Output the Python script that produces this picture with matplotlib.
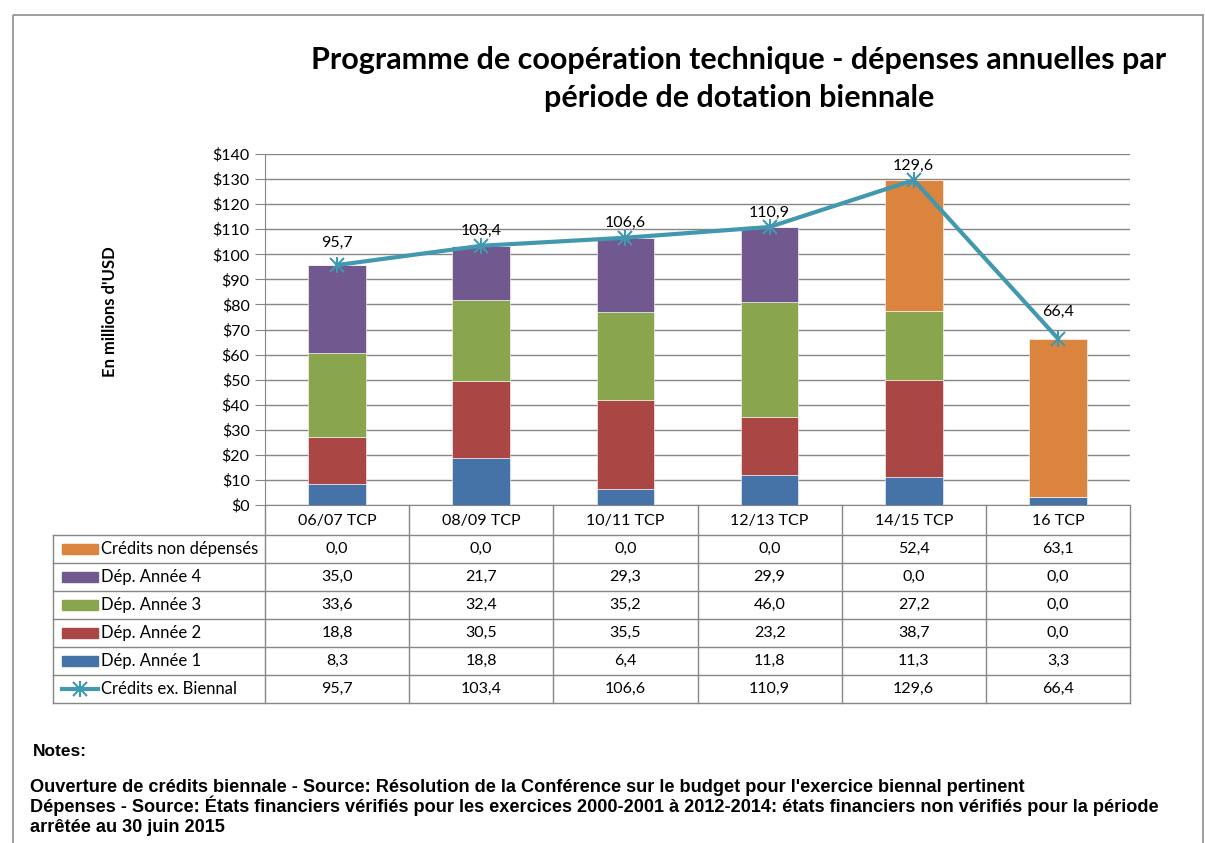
import matplotlib.pyplot as plt
from matplotlib.patches import Rectangle
import numpy as np

# ==============================
# DATA
# ==============================

periods = ["06/07 TCP", "08/09 TCP", "10/11 TCP", "12/13 TCP", "14/15 TCP", "16 TCP"]
dep_annee1 = [8.3, 18.8, 6.4, 11.8, 11.3, 3.3]
dep_annee2 = [18.8, 30.5, 35.5, 23.2, 38.7, 0.0]
dep_annee3 = [33.6, 32.4, 35.2, 46.0, 27.2, 0.0]
dep_annee4 = [35.0, 21.7, 29.3, 29.9, 0.0, 0.0]
non_depenses = [0.0, 0.0, 0.0, 0.0, 52.4, 63.1]
credits_biennal = [95.7, 103.4, 106.6, 110.9, 129.6, 66.4]

stack_names = ["Dép. Année 1", "Dép. Année 2", "Dép. Année 3", "Dép. Année 4", "Crédits non dépensés"]
stack_values = [dep_annee1, dep_annee2, dep_annee3, dep_annee4, non_depenses]
stack_colors = ["#4572A7", "#AA4643", "#89A54E", "#71588F", "#DB843D"]
line_name = "Crédits ex. Biennal"
line_color = "#4198AF"

title = "Programme de coopération technique - dépenses annuelles par\npériode de dotation biennale"
notes = [
    "Ouverture de crédits biennale - Source: Résolution de la Conférence sur le budget pour l'exercice biennal pertinent",
    "Dépenses - Source: États financiers vérifiés pour les exercices 2000-2001 à 2012-2014: états financiers non vérifiés pour la période",
    "arrêtée au 30 juin 2015",
]

# label lift above each point, in pixels (labels were hand-placed in the original)
label_lift = [22, 15, 15, 14, 14, 27]

def fr(v):
    return f"{v:.1f}".replace(".", ",")

# ==============================
# FIGURE
# ==============================

W, H = 1205, 843
fig = plt.figure(figsize=(W / 100, H / 100), dpi=100)
FONT = "Lato"
GRID = "#868686"

# overlay in pixel coordinates for frame, table and notes
ov = fig.add_axes([0, 0, 1, 1])
ov.set_xlim(0, W)
ov.set_ylim(H, 0)
ov.axis("off")

ov.add_patch(Rectangle((13, 15), 1190, 840, fill=False, edgecolor="#8c8c8c", lw=1.2))

# plot area
x0, x1, ytop, ybot = 265, 1130, 154, 505
ax = fig.add_axes([x0 / W, (H - ybot) / H, (x1 - x0) / W, (ybot - ytop) / H])
x = np.arange(len(periods))
bottom = np.zeros(len(periods))
for vals, col in zip(stack_values, stack_colors):
    ax.bar(x, vals, 0.4, bottom=bottom, color=col, edgecolor="white", lw=0.4, zorder=3)
    bottom += np.array(vals)

ax.plot(x, credits_biennal, color=line_color, lw=3, marker="x", ms=10, mew=1.5, zorder=4)
ax.plot(x, credits_biennal, ls="none", color=line_color, marker="|", ms=12, mew=1.5, zorder=4)
for i, v in enumerate(credits_biennal):
    ax.annotate(fr(v), (i, v), xytext=(0, label_lift[i] * 0.72), textcoords="offset points",
                ha="center", va="center", fontsize=11.5, family=FONT)

ax.set_xlim(-0.5, len(periods) - 0.5)
ax.set_ylim(0, 140)
ax.set_yticks(np.arange(0, 141, 10))
ax.set_yticklabels([f"${v}" for v in range(0, 141, 10)], fontsize=11.5, family=FONT)
ax.set_xticks([])
ax.grid(axis="y", color=GRID, lw=1, zorder=0)
for s in ["top", "right"]:
    ax.spines[s].set_visible(False)
ax.spines["left"].set_color(GRID)
ax.spines["bottom"].set_color(GRID)
ax.tick_params(axis="y", length=7, color=GRID, pad=4)
ax.patch.set_alpha(0)

ax.set_ylabel("En millions d'USD", fontsize=12, fontweight="bold", family=FONT, labelpad=0)
ax.yaxis.set_label_coords(-147 / (x1 - x0), 0.55)

fig.text(739 / W, 1 - 79 / H, title, ha="center", va="center", fontsize=22,
         fontweight="bold", family=FONT, linespacing=1.45)

# ==============================
# DATA TABLE
# ==============================

col_w = (x1 - x0) / len(periods)
col_edges = [x0 + i * col_w for i in range(len(periods) + 1)]
row_h = 28
rows_top = 535
table_rows = [
    ("Crédits non dépensés", non_depenses, stack_colors[4]),
    ("Dép. Année 4", dep_annee4, stack_colors[3]),
    ("Dép. Année 3", dep_annee3, stack_colors[2]),
    ("Dép. Année 2", dep_annee2, stack_colors[1]),
    ("Dép. Année 1", dep_annee1, stack_colors[0]),
    (line_name, credits_biennal, None),
]
table_bottom = rows_top + row_h * len(table_rows)

for cx in col_edges:
    ov.plot([cx, cx], [ybot, table_bottom], color=GRID, lw=1)
ov.plot([53, 53], [rows_top, table_bottom], color=GRID, lw=1)
for k in range(len(table_rows) + 1):
    yy = rows_top + k * row_h
    ov.plot([53, x1], [yy, yy], color=GRID, lw=1)

for i, p in enumerate(periods):
    ov.text(col_edges[i] + col_w / 2, (ybot + rows_top) / 2 + 1, p, ha="center", va="center",
            fontsize=11.5, family=FONT)

for k, (name, vals, col) in enumerate(table_rows):
    yc = rows_top + k * row_h + row_h / 2
    if col is not None:
        ov.add_patch(Rectangle((62, yc - 5), 36, 10, color=col))
    else:
        ov.plot([62, 98], [yc, yc], color=line_color, lw=3)
        ov.plot([80], [yc], color=line_color, marker="x", ms=10, mew=1.5)
        ov.plot([80], [yc], color=line_color, marker="|", ms=12, mew=1.5)
    ov.text(101, yc, name, ha="left", va="center", fontsize=12, family=FONT)
    for i, v in enumerate(vals):
        ov.text(col_edges[i] + col_w / 2, yc, fr(v), ha="center", va="center",
                fontsize=11.5, family=FONT)

# ==============================
# NOTES
# ==============================

ov.text(33, 752, "Notes:", ha="left", va="center", fontsize=12.5, fontweight="bold",
        family="Liberation Sans")
for yy, line in zip([787, 806, 828], notes):
    ov.text(30, yy, line, ha="left", va="center", fontsize=13.1, fontweight="bold",
            family="Liberation Sans")

fig.savefig("out.png", dpi=100)
